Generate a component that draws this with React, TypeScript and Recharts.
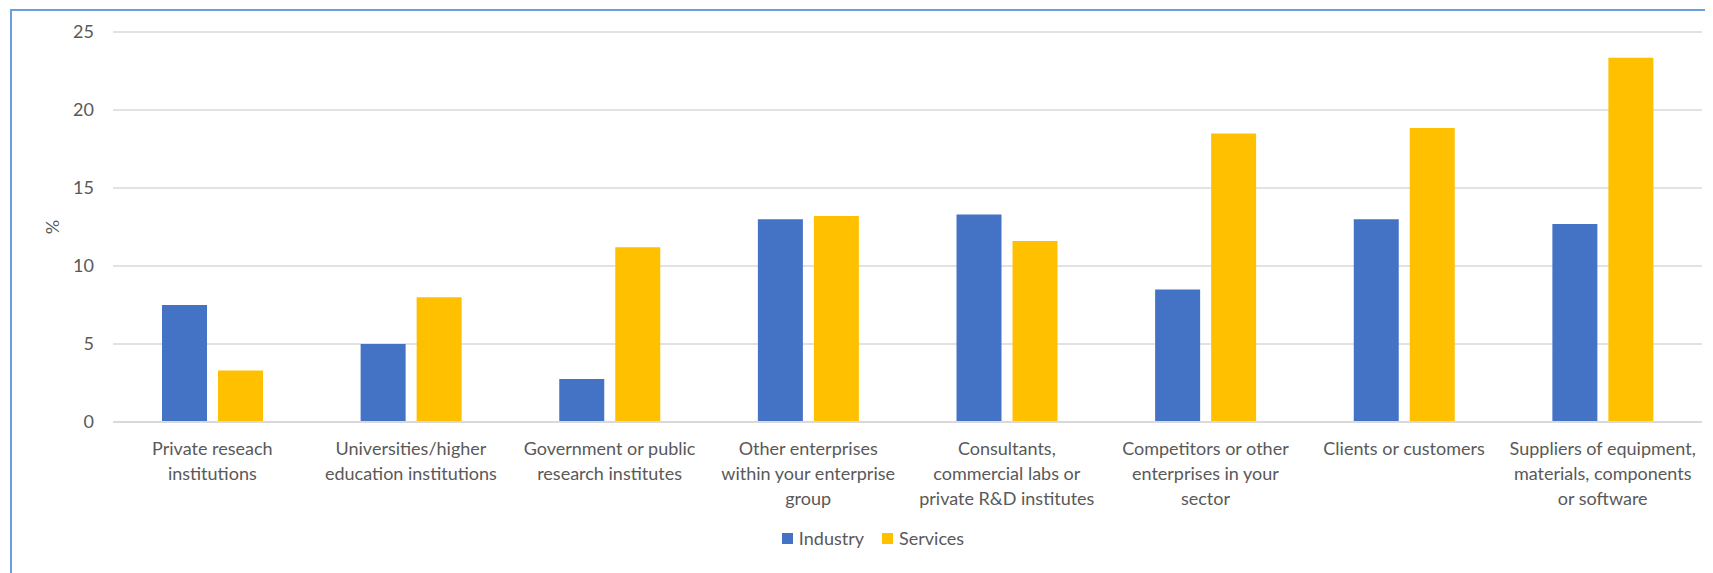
import React from "react";
import { BarChart, Bar, XAxis, YAxis, CartesianGrid, Legend } from "recharts";

const categoryLines: string[][] = [
  ["Private reseach", "institutions"],
  ["Universities/higher", "education institutions"],
  ["Government or public", "research institutes"],
  ["Other enterprises", "within your enterprise", "group"],
  ["Consultants,", "commercial labs or", "private R&D institutes"],
  ["Competitors or other", "enterprises in your", "sector"],
  ["Clients or customers"],
  ["Suppliers of equipment,", "materials, components", "or software"],
];
const categories = categoryLines.map((l) => l.join(" "));
const industry = [7.5, 5.0, 2.75, 13.0, 13.3, 8.5, 13.0, 12.7];
const services = [3.3, 8.0, 11.2, 13.2, 11.6, 18.5, 18.85, 23.35];
const yTicks = [0, 5, 10, 15, 20, 25];

const data = categories.map((name, i) => ({
  name,
  Industry: industry[i],
  Services: services[i],
}));

const FONT = "Lato, 'Open Sans', sans-serif";
const TEXT = "#595959";
const GRID = "#d9d9d9";

const CategoryTick = (props: any) => {
  const { x, y, payload } = props;
  const lines = categoryLines[payload.index] || [payload.value];
  return (
    <g>
      {lines.map((line, i) => (
        <text
          key={i}
          x={x}
          y={y + 26 + i * 25}
          textAnchor="middle"
          dominantBaseline="central"
          fill={TEXT}
          fontSize={18}
          fontFamily={FONT}
        >
          {line}
        </text>
      ))}
    </g>
  );
};

const LegendContent = (props: any) => {
  const { payload } = props;
  return (
    <div style={{ display: "flex", justifyContent: "center", fontFamily: FONT, fontSize: 18, color: TEXT }}>
      {(payload || []).map((item: any) => (
        <span key={item.value} style={{ display: "inline-flex", alignItems: "center", marginRight: 18 }}>
          <span style={{ width: 11, height: 11, background: item.color, display: "inline-block", marginRight: 6 }} />
          {item.value}
        </span>
      ))}
    </div>
  );
};

const App: React.FC = () => {
  return (
    <div style={{ position: "relative", width: 1705, height: 565, overflow: "hidden" }}>
      <div
        style={{
          position: "absolute",
          left: 2,
          top: 1,
          right: -20,
          bottom: -20,
          borderLeft: "2px solid #6a9fdb",
          borderTop: "2px solid #6a9fdb",
        }}
      />
      <div style={{ position: "absolute", left: -8, top: -8 }}>
        <BarChart
          width={1713}
          height={573}
          data={data}
          margin={{ top: 32, right: 11, left: 0, bottom: 0 }}
          barSize={45}
          barGap={11}
        >
          <CartesianGrid vertical={false} stroke={GRID} strokeWidth={1.5} />
          <XAxis
            dataKey="name"
            interval={0}
            tickLine={false}
            tickSize={0}
            tickMargin={0}
            axisLine={{ stroke: GRID, strokeWidth: 2 }}
            height={121}
            tick={<CategoryTick />}
          />
          <YAxis
            width={113}
            domain={[0, 25]}
            ticks={yTicks}
            axisLine={false}
            tickLine={false}
            tickMargin={13}
            tick={{ fill: TEXT, fontSize: 18, fontFamily: FONT }}
            label={{
              content: (p: any) => {
                const vb = p.viewBox || { x: 0, y: 0, height: 0 };
                const cx = vb.x + 52;
                const cy = vb.y + vb.height / 2;
                return (
                  <text
                    x={cx}
                    y={cy}
                    transform={`rotate(-90 ${cx} ${cy})`}
                    textAnchor="middle"
                    dominantBaseline="central"
                    fill={TEXT}
                    fontSize={18}
                    fontFamily={FONT}
                  >
                    %
                  </text>
                );
              },
            }}
          />
          <Legend
            verticalAlign="bottom"
            content={<LegendContent />}
            wrapperStyle={{ left: 0, width: 1764, height: 30, bottom: 16 }}
          />
          <Bar dataKey="Industry" fill="#4472c4" isAnimationActive={false} />
          <Bar dataKey="Services" fill="#ffc000" isAnimationActive={false} />
        </BarChart>
      </div>
    </div>
  );
};

export default App;
